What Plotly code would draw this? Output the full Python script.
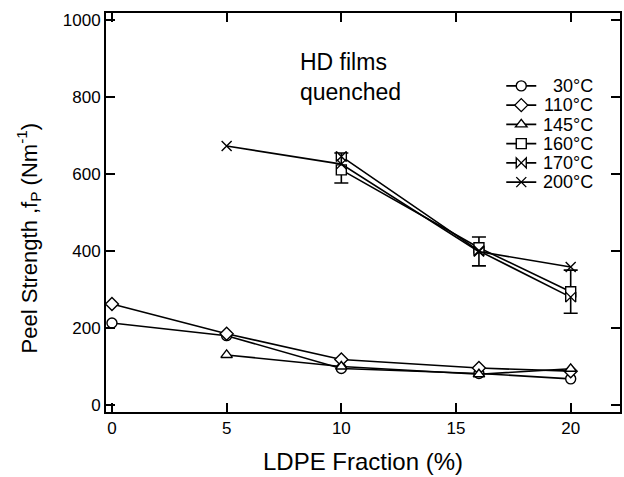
import plotly.graph_objects as go

# ---- data ----
x_all = [0, 5, 10, 16, 20]
x_from5 = [5, 10, 16, 20]
x_from10 = [10, 16, 20]

y_30 = [213, 180, 95, 82, 68]
y_110 = [262, 185, 118, 96, 88]
y_145 = [130, 100, 80, 94]
y_160 = [610, 408, 294]
y_160_err_plus = [44, 28, 56]
y_160_err_minus = [34, 47, 56]
y_170 = [645, 400, 280]
y_200 = [672, 625, 398, 358]

x_ticks = [0, 5, 10, 15, 20]
y_ticks = [0, 200, 400, 600, 800, 1000]

series_names = ["30\u00b0C", "110\u00b0C", "145\u00b0C", "160\u00b0C", "170\u00b0C", "200\u00b0C"]

FONT = "Liberation Sans, Arial, Helvetica, sans-serif"

fig = go.Figure()

def add(xv, yv, symbol, err=None, fill="white"):
    kw = {}
    if err is not None:
        kw["error_y"] = dict(type="data", symmetric=False, array=err[0], arrayminus=err[1],
                             color="black", thickness=1.6, width=7)
    fig.add_trace(go.Scatter(
        x=xv, y=yv, name="", mode="lines+markers",
        line=dict(color="black", width=1.6),
        marker=dict(symbol=symbol, size=10, color=fill,
                    line=dict(color="black", width=1.4)),
        **kw))

add(x_all, y_30, "circle")
add(x_all, y_110, "diamond")
add(x_from5, y_145, "triangle-up")
add(x_from10, y_160, "square", (y_160_err_plus, y_160_err_minus))
add(x_from10, y_170, "bowtie")
add(x_from5, y_200, "x-thin-open", fill="black")

# legend labels drawn as text beside the native legend symbols
PLOT_TOP, PLOT_H = 13, 399
row0, row_step = 86, 19.25
annotations = []
for i, nm in enumerate(series_names):
    ypx = row0 + i * row_step
    annotations.append(dict(text=nm, x=0.952, y=1 - (ypx - PLOT_TOP) / PLOT_H,
                            xref="paper", yref="paper", xanchor="right", yanchor="middle",
                            showarrow=False, font=dict(size=18, family=FONT, color="black")))

annotations.append(dict(text="HD films<br>quenched", x=0.373, y=0.915,
                        xref="paper", yref="paper", xanchor="left", yanchor="top",
                        align="left", showarrow=False,
                        font=dict(size=23, family=FONT, color="black")))
annotations.append(dict(text="Peel Strength ,f<sub>P</sub> (Nm<sup>-1</sup>)",
                        textangle=-90, x=-0.151, y=0.436, xref="paper", yref="paper",
                        xanchor="center", yanchor="middle", showarrow=False,
                        font=dict(size=22, family=FONT, color="black")))

fig.update_layout(
    width=624, height=477,
    margin=dict(l=106, r=2, t=13, b=65),
    paper_bgcolor="white", plot_bgcolor="white",
    font=dict(family=FONT, color="black", size=17),
    showlegend=True,
    legend=dict(x=0.769, y=0.854, xanchor="left", yanchor="top",
                bgcolor="rgba(0,0,0,0)", font=dict(size=12.5, family=FONT),
                tracegroupgap=0, itemwidth=30),
    annotations=annotations,
)

axis_common = dict(
    ticks="inside", ticklen=9, tickwidth=1.8, tickcolor="#000000",
    showline=True, linecolor="#000000", linewidth=2, mirror="ticks",
    showgrid=False, zeroline=False, tickfont=dict(size=17, color="black"),
)

fig.update_xaxes(
    range=[-0.26, 22.15], tickvals=x_ticks,
    title=dict(text="LDPE Fraction (%)", font=dict(size=24, family=FONT), standoff=16),
    **axis_common,
)
fig.update_yaxes(
    range=[-18, 1017], tickvals=y_ticks,
    **axis_common,
)

fig.write_html("out.html")
